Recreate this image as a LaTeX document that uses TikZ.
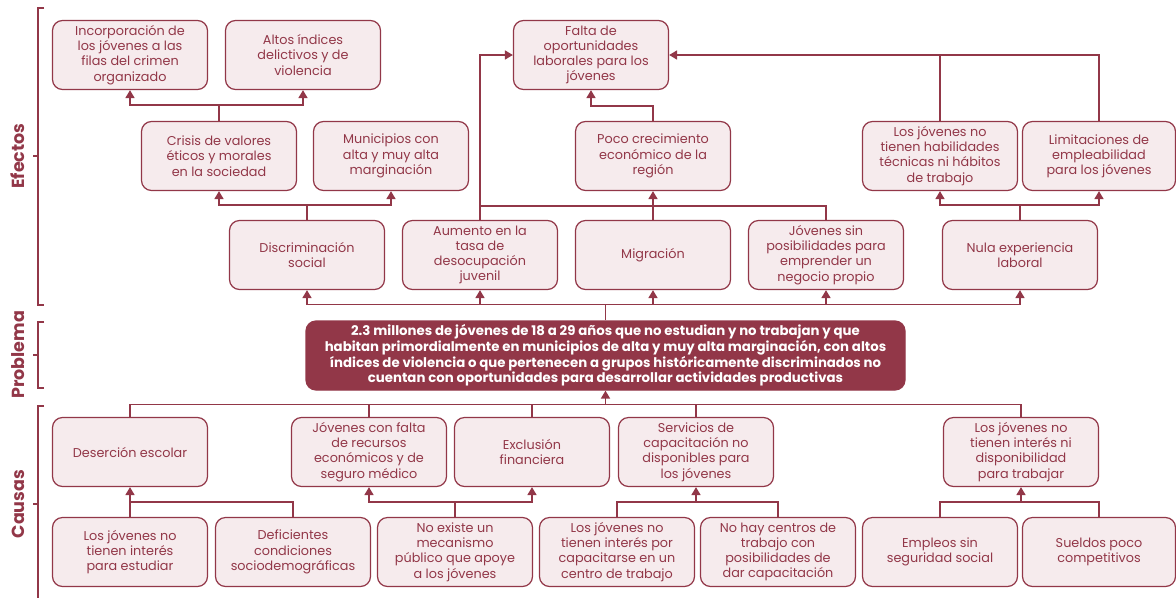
\documentclass[tikz,border=0pt]{standalone}
\usepackage{fontspec}
\setmainfont{Poppins}
\usetikzlibrary{arrows.meta}
\definecolor{vino}{HTML}{923748}
\definecolor{rosa}{HTML}{F6EBED}

\begin{document}
\begin{tikzpicture}[x=1pt, y=-1pt,
  caja/.style={draw=vino, fill=rosa, line width=1.2pt, rounded corners=10pt, minimum width=155pt, minimum height=69pt, inner sep=1pt, align=center, text=vino, font=\fontsize{12.8}{15.2}\selectfont},
  problema/.style={caja, fill=vino, text=white, minimum width=599pt, font=\bfseries\fontsize{13.3}{15.6}\selectfont},
  linea/.style={draw=vino, line width=1.6pt},
  flecha/.style={linea, -{Triangle[width=9pt,length=8pt]}},
  llave/.style={draw=vino, line width=1.2pt},
  etiqueta/.style={rotate=90, text=vino, font=\bfseries\fontsize{17.5}{20}\selectfont}]
\useasboundingbox (0,0) rectangle (1176,598);
\def\yA{55}
\def\yB{156}
\def\yC{255}
\def\yP{355.5}
\def\yD{452}
\def\yE{552}

% efectos
\node[caja] (inc) at (130,\yA) {Incorporación de\\los jóvenes a las\\filas del crimen\\organizado};
\node[caja] (altos) at (303,\yA) {Altos índices\\delictivos y de\\violencia};
\node[caja] (falta) at (591,\yA) {Falta de\\oportunidades\\laborales para los\\jóvenes};
\node[caja] (crisis) at (219,\yB) {Crisis de valores\\éticos y morales\\en la sociedad};
\node[caja] (munic) at (391,\yB) {Municipios con\\alta y muy alta\\marginación};
\node[caja] (poco) at (653,\yB) {Poco crecimiento\\económico de la\\región};
\node[caja] (habil) at (940,\yB) {Los jóvenes no\\tienen habilidades\\técnicas ni hábitos\\de trabajo};
\node[caja, minimum width=153pt] (limit) at (1099,\yB) {Limitaciones de\\empleabilidad\\para los jóvenes};
\node[caja] (discr) at (307,\yC) {Discriminación\\social};
\node[caja] (aumento) at (480,\yC) {Aumento en la\\tasa de\\desocupación\\juvenil};
\node[caja] (migra) at (653,\yC) {Migración};
\node[caja] (sinpos) at (826,\yC) {Jóvenes sin\\posibilidades para\\emprender un\\negocio propio};
\node[caja] (nula) at (1020,\yC) {Nula experiencia\\laboral};

% problema
\node[problema] (prob) at (605.5,\yP) {2.3 millones de jóvenes de 18 a 29 años que no estudian y no trabajan y que\\habitan primordialmente en municipios de alta y muy alta marginación, con altos\\índices de violencia o que pertenecen a grupos históricamente discriminados no\\cuentan con oportunidades para desarrollar actividades productivas};

% causas
\node[caja] (deser) at (130,\yD) {Deserción escolar};
\node[caja] (recur) at (369,\yD) {Jóvenes con falta\\de recursos\\económicos y de\\seguro médico};
\node[caja] (exclu) at (532,\yD) {Exclusión\\financiera};
\node[caja] (servi) at (696,\yD) {Servicios de\\capacitación no\\disponibles para\\los jóvenes};
\node[caja] (nointer) at (1021,\yD) {Los jóvenes no\\tienen interés ni\\disponibilidad\\para trabajar};
\node[caja] (estud) at (130,\yE) {Los jóvenes no\\tienen interés\\para estudiar};
\node[caja] (defic) at (293,\yE) {Deficientes\\condiciones\\sociodemográficas};
\node[caja] (mecan) at (455,\yE) {No existe un\\mecanismo\\público que apoye\\a los jóvenes};
\node[caja] (capac) at (617,\yE) {Los jóvenes no\\tienen interés por\\capacitarse en un\\centro de trabajo};
\node[caja] (centros) at (778,\yE) {No hay centros de\\trabajo con\\posibilidades de\\dar capacitación};
\node[caja] (empleos) at (940,\yE) {Empleos sin\\seguridad social};
\node[caja, minimum width=153pt] (sueldos) at (1099,\yE) {Sueldos poco\\competitivos};

% llaves
\node[etiqueta] (efectos) at (18,156) {Efectos};
\node[etiqueta] (problem) at (18,355) {Problema};
\node[etiqueta] (causas) at (18,504) {Causas};
\draw[llave] (44,8) -- (38,8) -- (38,305) -- (44,305) (33,156) -- (38,156);
\draw[llave] (44,322) -- (38,322) -- (38,388) -- (44,388) (33,355) -- (38,355);
\draw[llave] (44,406) -- (38,406) -- (38,598) (33,504) -- (38,504);

% edges
\draw[linea] (prob.north) -- ++(0,-16) coordinate (jE); % problema to efectos
\foreach \n in {discr, aumento, migra, sinpos, nula}
  \draw[flecha] (jE) -| (\n);
\draw[linea] (discr.north) -- ++(0,-15) coordinate (jD);
\draw[flecha] (jD) -| (crisis);
\draw[flecha] (jD) -| (munic);
\draw[linea] (crisis.north) -- ++(0,-16) coordinate (jC);
\draw[flecha] (jC) -| (inc);
\draw[flecha] (jC) -| (altos);
\draw[flecha] (aumento.north) |- (falta.west); % aumento to falta
\draw[linea] (aumento.north) ++(0,-14) coordinate (jM) -| (sinpos.north);
\draw[linea] (migra.north) -- (migra.north |- jM);
\draw[flecha] (migra.north |- jM) -- (poco.south);
\draw[flecha] (poco.north) -- ++(0,-15) -| (falta.south); % poco to falta
\draw[flecha] (limit.north) |- (falta.east);
\draw[linea] (habil.north) -- (habil.north |- falta.east);
\draw[linea] (nula.north) -- ++(0,-15) coordinate (jN);
\draw[flecha] (jN) -| (habil);
\draw[flecha] (jN) -| (limit);

\draw[flecha] (prob.south) ++(0,14) coordinate (jP) -- (prob.south); % causas to problema
\foreach \n in {deser, recur, exclu, servi, nointer}
  \draw[linea] (jP) -| (\n.north);
\draw[flecha] (estud.north) -- (deser.south);
\draw[linea] (defic.north) -- ++(0,-15) -| (estud.north);
\draw[linea] (mecan.north) -- ++(0,-15) coordinate (jX);
\draw[flecha] (jX) -| (recur);
\draw[flecha] (jX) -| (exclu);
\draw[linea] (capac.north) -- ++(0,-15) coordinate (jS) -| (centros.north);
\draw[flecha] (jS -| servi.south) -- (servi.south);
\draw[linea] (empleos.north) -- ++(0,-15) coordinate (jT) -| (sueldos.north);
\draw[flecha] (jT -| nointer.south) -- (nointer.south);
\end{tikzpicture}
\end{document}
